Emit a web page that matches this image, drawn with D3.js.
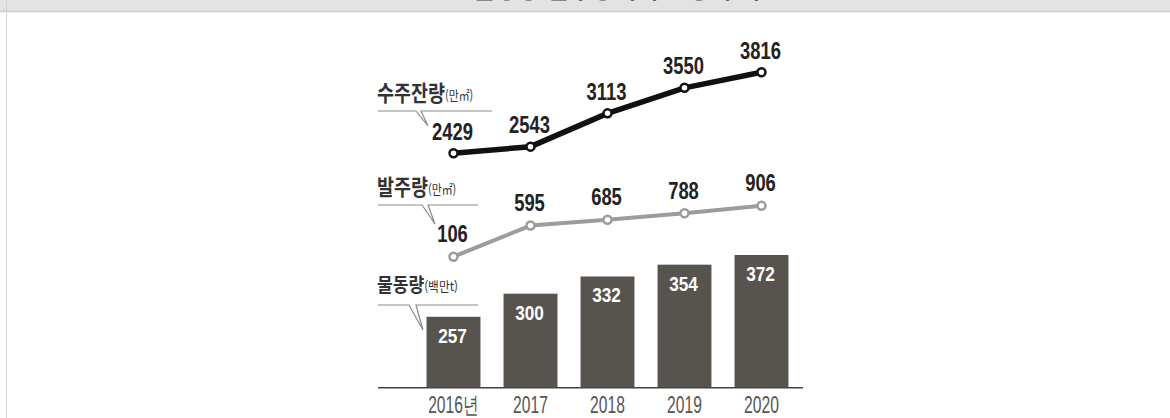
<!DOCTYPE html>
<html lang="ko">
<head>
<meta charset="utf-8">
<script src="https://cdn.jsdelivr.net/npm/d3@7"></script>
<style>
  html, body { margin: 0; padding: 0; background: #fff; }
  svg { display: block; }
</style>
</head>
<body>
<svg id="chart" width="1170" height="418"></svg>
<script>
// ---- data ----
const years = ["2016", "2017", "2018", "2019", "2020"];
const yearLabels = ["2016년", "2017", "2018", "2019", "2020"];
const backlog = [2429, 2543, 3113, 3550, 3816];   // 수주잔량 (만㎡)
const orders = [106, 595, 685, 788, 906];         // 발주량 (만㎡)
const cargo = [257, 300, 332, 354, 372];          // 물동량 (백만t)
const seriesNames = ["수주잔량", "발주량", "물동량"];
const seriesUnits = ["(만㎡)", "(만㎡)", "(백만t)"];
const chartTitle = "물동량·발주량·수주잔량 추이";

// ---- setup ----
const svg = d3.select("#chart");
const NUM = "'Liberation Sans', Arial, sans-serif";
const KOR = "'Noto Sans CJK KR', 'Noto Sans', sans-serif";

// header band and frame
svg.append("rect").attr("x", 0).attr("y", 0).attr("width", 1170).attr("height", 11).attr("fill", "#e3e3e3");
svg.append("text").attr("x", 617).attr("y", -2.5).attr("text-anchor", "middle")
  .attr("font-family", KOR).attr("font-weight", 700).attr("font-size", 24).attr("fill", "#444")
  .text(chartTitle);
svg.append("line").attr("x1", 0).attr("x2", 1170).attr("y1", 11.5).attr("y2", 11.5).attr("stroke", "#cfcfcf").attr("stroke-width", 1.5);
svg.append("line").attr("x1", 6.5).attr("x2", 6.5).attr("y1", 0).attr("y2", 418).attr("stroke", "#d4d4d4").attr("stroke-width", 1);

// ---- scales ----
const x = d3.scaleBand().domain(years).range([415, 800]).paddingInner(0.3).paddingOuter(0.15);
const cx = d => x(d) + x.bandwidth() / 2;
const yBar = d3.scaleLinear().domain([125, 372]).range([387.7, 255]);
const yBacklog = d3.scaleLinear().domain([2429, 3816]).range([153.3, 72.3]);
const yOrders = d3.scaleLinear().domain([106, 906]).range([256.7, 205.7]);

// ---- bars ----
const barData = years.map((y, i) => ({ year: y, v: cargo[i] }));
svg.append("g").selectAll("rect").data(barData).join("rect")
  .attr("x", d => x(d.year)).attr("width", x.bandwidth())
  .attr("y", d => yBar(d.v)).attr("height", d => yBar.range()[0] - yBar(d.v))
  .attr("fill", "#57534f");

svg.append("g").selectAll("g").data(barData).join("g")
  .attr("transform", d => `translate(${cx(d.year) - 1},${yBar(d.v) + 26}) scale(0.82,1)`)
  .append("text").attr("text-anchor", "middle")
  .attr("font-family", NUM).attr("font-weight", 700).attr("font-size", 21).attr("fill", "#fff")
  .text(d => d.v);

// ---- x axis ----
const axisY = yBar.range()[0];
svg.append("line").attr("x1", 378).attr("x2", 803).attr("y1", axisY).attr("y2", axisY)
  .attr("stroke", "#444").attr("stroke-width", 1.5);
const ax = svg.append("g").attr("transform", `translate(0,${axisY})`)
  .call(d3.axisBottom(x).tickSize(0).tickFormat((d, i) => yearLabels[i]));
ax.select(".domain").remove();
ax.selectAll("text")
  .attr("dy", null).attr("y", 25.5)
  .attr("transform", "scale(0.68,1)")
  .attr("font-family", NUM).attr("font-size", 23).attr("fill", "#555");

// ---- lines ----
function drawLine(values, yScale, color, width, labelGap) {
  const pts = years.map((y, i) => ({ year: y, v: values[i] }));
  svg.append("path").datum(pts)
    .attr("d", d3.line().x(d => cx(d.year)).y(d => yScale(d.v)))
    .attr("fill", "none").attr("stroke", color).attr("stroke-width", width)
    .attr("stroke-linejoin", "round");
  svg.append("g").selectAll("circle").data(pts).join("circle")
    .attr("cx", d => cx(d.year)).attr("cy", d => yScale(d.v)).attr("r", 4)
    .attr("fill", "#fff").attr("stroke", color).attr("stroke-width", 2.5);
  svg.append("g").selectAll("g").data(pts).join("g")
    .attr("transform", d => `translate(${cx(d.year) - 1},${yScale(d.v) - labelGap}) scale(0.8,1)`)
    .append("text").attr("text-anchor", "middle")
    .attr("font-family", NUM).attr("font-weight", 700).attr("font-size", 23).attr("fill", "#222")
    .text(d => d.v);
}
drawLine(backlog, yBacklog, "#111", 5.5, 13.5);
drawLine(orders, yOrders, "#9c9c9c", 4, 14.5);

// ---- series titles with callout lines ----
const callouts = [
  { name: seriesNames[0], unit: seriesUnits[0], ty: 101, fs: 22, sx: 0.84, path: "M378,111 H416 L428,126 L421,111 H492" },
  { name: seriesNames[1], unit: seriesUnits[1], ty: 195, fs: 22, sx: 0.84, path: "M378,205 H422 L435,224 L428,205 H478" },
  { name: seriesNames[2], unit: seriesUnits[2], ty: 292, fs: 19, sx: 0.9, path: "M378,305 H409 L423,330 L416,305 H478" }
];
callouts.forEach(c => {
  svg.append("path").attr("d", c.path).attr("fill", "none").attr("stroke", "#8a8a8a").attr("stroke-width", 1.2);
  const t = svg.append("g").attr("transform", `translate(377,${c.ty}) scale(${c.sx},1)`)
    .append("text").attr("font-family", KOR).attr("fill", "#333");
  t.append("tspan").attr("font-size", c.fs).attr("font-weight", 700).text(c.name);
  t.append("tspan").attr("font-size", 13).attr("font-weight", 400).attr("dy", -1).text(c.unit);
});
</script>
</body>
</html>
